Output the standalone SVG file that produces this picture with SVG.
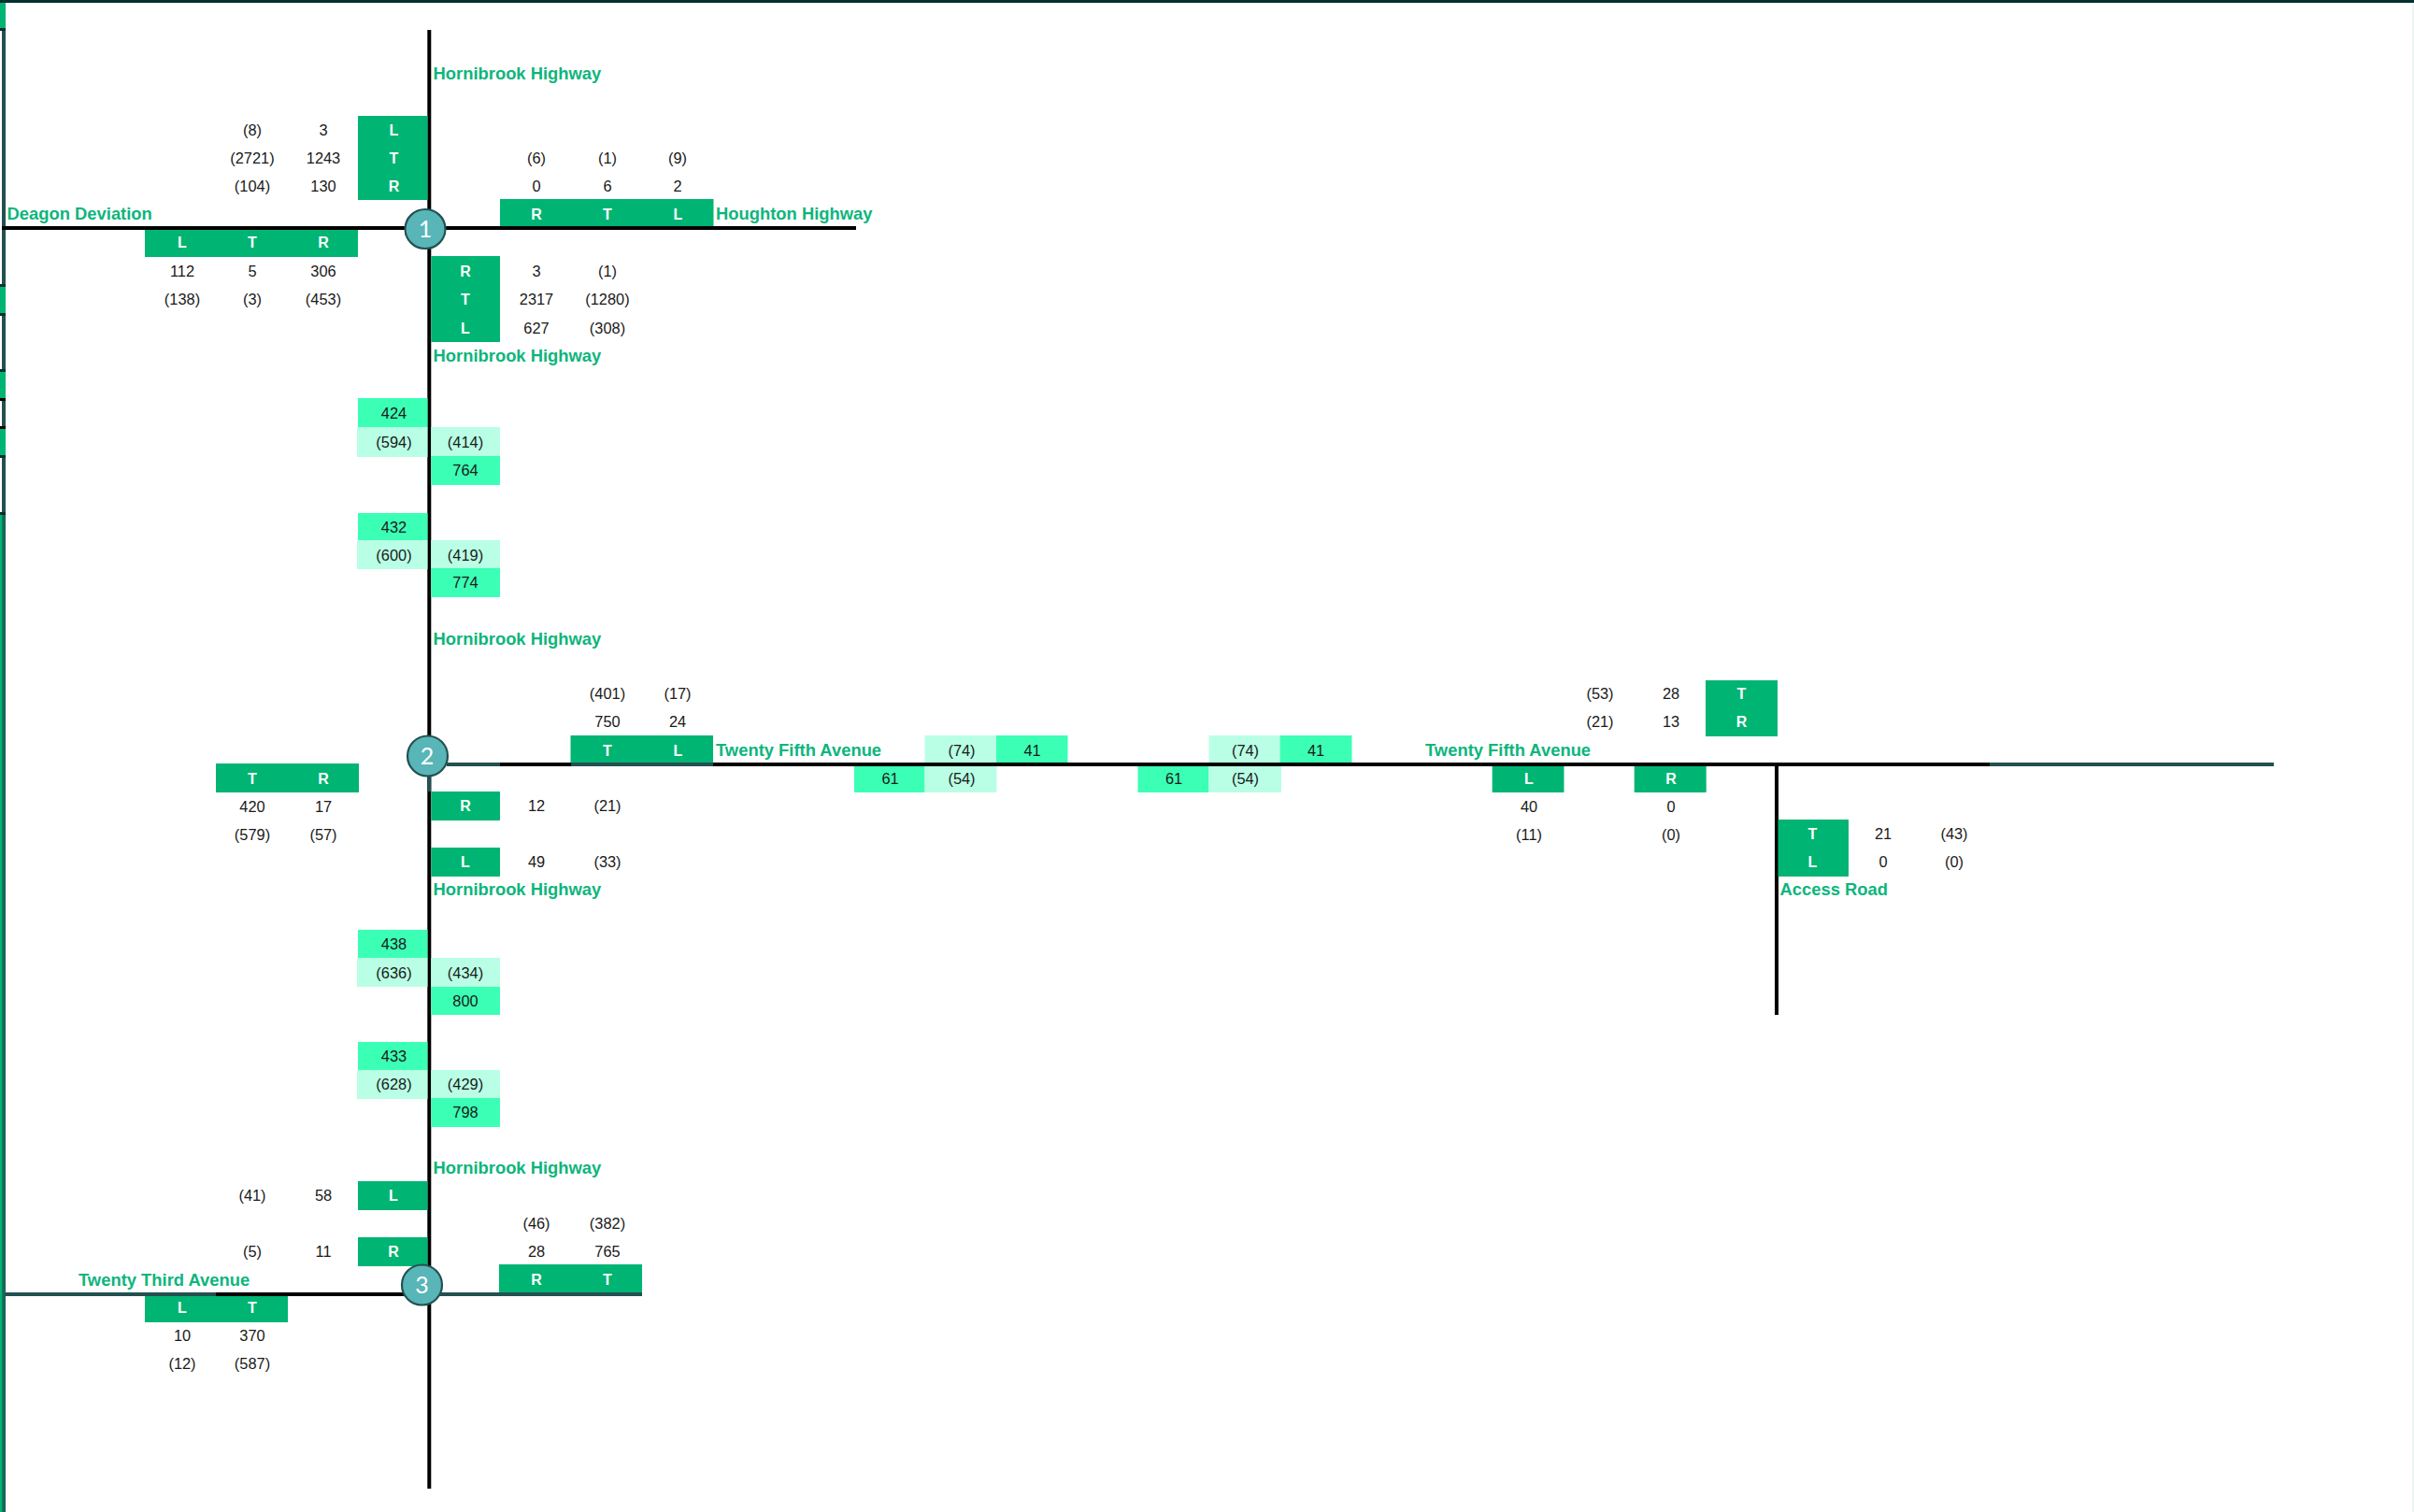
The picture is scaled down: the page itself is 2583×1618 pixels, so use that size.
<svg xmlns="http://www.w3.org/2000/svg" width="2583" height="1618" viewBox="0 0 2583 1618">
<style>
text{font-family:"Liberation Sans",Arial,sans-serif;text-anchor:middle}
.g{fill:#00b473}.m{fill:#3bffb5}.p{fill:#b9ffe5}
.w{fill:#fff;font-weight:700;font-size:16px}
.n{fill:#1a1a1a;font-size:16.400px}
.l{fill:#0db57c;font-weight:700;font-size:18.400px;text-anchor:start}
.k{stroke:#000;stroke-width:4;fill:none}
.t{stroke:#235050;stroke-width:4;fill:none}
.c{fill:#58b5b8;stroke:#235050;stroke-width:2.200}
.cn{fill:#fff;font-size:25px;font-family:Lato,"Liberation Sans",sans-serif}
.e{fill:#235050}.d{fill:#022f2f}.b{fill:#00b473}
</style>
<rect width="2583" height="1618" fill="#fff"/>
<g id="frame">
<rect x="0" y="0" width="2583" height="3" class="d"/>
<rect x="2581" y="3" width="2" height="1615" fill="#eef3f4"/>
<rect x="2" y="3" width="4" height="1615" class="e"/>
<rect x="0" y="3" width="6" height="27" class="b"/>
<rect x="0" y="306" width="6" height="29" class="b"/>
<rect x="0" y="397" width="6" height="29" class="b"/>
<rect x="0" y="459" width="6" height="28" class="b"/>
<rect x="0" y="550" width="2.500" height="1068" class="b"/>
<rect x="2.500" y="550" width="3" height="1068" fill="#166a58"/>
<rect x="0" y="30" width="6" height="3" class="d"/>
<rect x="0" y="304" width="6" height="3" class="d"/>
<rect x="0" y="335" width="6" height="3" class="d"/>
<rect x="0" y="395" width="6" height="3" class="d"/>
<rect x="0" y="426" width="6" height="3" fill="#000"/>
<rect x="0" y="456" width="6" height="3" fill="#000"/>
<rect x="0" y="487" width="6" height="3" class="d"/>
<rect x="0" y="548" width="6" height="3" class="d"/>
</g>
<g id="connectors">
<path class="k" d="M459.300 32V1593"/>
<path class="k" d="M2 244H916"/>
<path class="t" d="M459.300 825V847"/>
<path class="k" d="M535 818H611"/>
<path class="t" d="M478 818H535M611 818H763"/>
<path class="k" d="M763 818H2129"/>
<path class="t" d="M2129 818H2433"/>
<path class="k" d="M1901 818V1086"/>
<path class="t" d="M5 1385H231"/>
<path class="k" d="M231 1385H432"/>
<path class="t" d="M470 1385H687"/>
</g>
<g id="node-1-west-south">
<rect class="g" x="155" y="246" width="228" height="29"/>
<text class="w" x="195" y="265">L</text><text class="w" x="270" y="265">T</text><text class="w" x="346" y="265">R</text>
<text class="n" x="195" y="296">112</text><text class="n" x="270" y="296">5</text><text class="n" x="346" y="296">306</text>
<text class="n" x="195" y="326">(138)</text><text class="n" x="270" y="326">(3)</text><text class="n" x="346" y="326">(453)</text>
</g>
<g id="node-1-north">
<rect class="g" x="383" y="124" width="74.500" height="90"/>
<text class="w" x="421.500" y="145">L</text><text class="w" x="421.500" y="175">T</text><text class="w" x="421.500" y="205">R</text>
<text class="n" x="346" y="145">3</text><text class="n" x="346" y="175">1243</text><text class="n" x="346" y="205">130</text>
<text class="n" x="270" y="145">(8)</text><text class="n" x="270" y="175">(2721)</text><text class="n" x="270" y="205">(104)</text>
</g>
<g id="node-1-east">
<rect class="g" x="535" y="213" width="228.500" height="29"/>
<text class="w" x="574" y="235">R</text><text class="w" x="650" y="235">T</text><text class="w" x="725.500" y="235">L</text>
<text class="n" x="574" y="205">0</text><text class="n" x="650" y="205">6</text><text class="n" x="725" y="205">2</text>
<text class="n" x="574" y="175">(6)</text><text class="n" x="650" y="175">(1)</text><text class="n" x="725" y="175">(9)</text>
</g>
<g id="node-1-south">
<rect class="g" x="461.300" y="274" width="73.700" height="92"/>
<text class="w" x="498" y="296">R</text><text class="w" x="498" y="326">T</text><text class="w" x="498" y="357">L</text>
<text class="n" x="574" y="296">3</text><text class="n" x="574" y="326">2317</text><text class="n" x="574" y="357">627</text>
<text class="n" x="650" y="296">(1)</text><text class="n" x="650" y="326">(1280)</text><text class="n" x="650" y="357">(308)</text>
</g>
<g id="node-1"><ellipse class="c" cx="455" cy="245" rx="21.500" ry="21"/><text class="cn" x="455" y="254">1</text></g>
<g id="road-labels">
<text class="l" x="463.500" y="85">Hornibrook Highway</text>
<text class="l" x="7.500" y="235">Deagon Deviation</text>
<text class="l" x="766" y="235">Houghton Highway</text>
<text class="l" x="463.500" y="386.500">Hornibrook Highway</text>
<text class="l" x="463.500" y="690">Hornibrook Highway</text>
<text class="l" x="766" y="809">Twenty Fifth Avenue</text>
<text class="l" x="1525" y="809">Twenty Fifth Avenue</text>
<text class="l" x="463.500" y="958">Hornibrook Highway</text>
<text class="l" x="1904.500" y="958">Access Road</text>
<text class="l" x="463.500" y="1256">Hornibrook Highway</text>
<text class="l" x="84" y="1375.500">Twenty Third Avenue</text>
</g>
<g id="flow-a">
<rect class="m" x="383" y="426" width="74.500" height="31"/><text class="n" x="421.500" y="448">424</text>
<rect class="p" x="382" y="457" width="75.500" height="32"/><text class="n" x="421.500" y="479">(594)</text>
<rect class="p" x="461.300" y="457" width="73.700" height="31"/><text class="n" x="498" y="479">(414)</text>
<rect class="m" x="461.300" y="488" width="73.700" height="31"/><text class="n" x="498" y="509">764</text>
</g>
<g id="flow-b">
<rect class="m" x="383" y="549" width="74.500" height="29"/><text class="n" x="421.500" y="570">432</text>
<rect class="p" x="382" y="578" width="75.500" height="31"/><text class="n" x="421.500" y="600">(600)</text>
<rect class="p" x="461.300" y="578" width="73.700" height="30"/><text class="n" x="498" y="600">(419)</text>
<rect class="m" x="461.300" y="608" width="73.700" height="31"/><text class="n" x="498" y="629">774</text>
</g>
<g id="node-2-north-east">
<rect class="g" x="610.500" y="787" width="152.500" height="29"/>
<text class="w" x="650" y="809">T</text><text class="w" x="725.500" y="809">L</text>
<text class="n" x="650" y="778">750</text><text class="n" x="725" y="778">24</text>
<text class="n" x="650" y="748">(401)</text><text class="n" x="725" y="748">(17)</text>
</g>
<g id="node-2-west">
<rect class="g" x="231" y="817" width="153" height="31"/>
<text class="w" x="270" y="839">T</text><text class="w" x="346" y="839">R</text>
<text class="n" x="270" y="868.500">420</text><text class="n" x="346" y="868.500">17</text>
<text class="n" x="270" y="898.500">(579)</text><text class="n" x="346" y="898.500">(57)</text>
</g>
<g id="node-2-south">
<rect class="g" x="461.300" y="847" width="73.700" height="31"/><text class="w" x="498" y="868">R</text>
<text class="n" x="574" y="868">12</text><text class="n" x="650" y="868">(21)</text>
<rect class="g" x="461.300" y="907" width="73.700" height="31"/><text class="w" x="498" y="928">L</text>
<text class="n" x="574" y="928">49</text><text class="n" x="650" y="928">(33)</text>
</g>
<g id="node-2"><ellipse class="c" cx="457.500" cy="809" rx="21.500" ry="21.500"/><text class="cn" x="457" y="818">2</text></g>
<g id="flow-c">
<rect class="p" x="989.500" y="787" width="76.500" height="29"/><text class="n" x="1029" y="809">(74)</text>
<rect class="m" x="1066" y="787" width="76.500" height="29"/><text class="n" x="1104.500" y="809">41</text>
<rect class="m" x="914" y="820" width="75.500" height="28"/><text class="n" x="952.500" y="839">61</text>
<rect class="p" x="989.500" y="820" width="77" height="28"/><text class="n" x="1029" y="839">(54)</text>
</g>
<g id="flow-d">
<rect class="p" x="1293.500" y="787" width="76" height="29"/><text class="n" x="1332.500" y="809">(74)</text>
<rect class="m" x="1369.500" y="787" width="77" height="29"/><text class="n" x="1408" y="809">41</text>
<rect class="m" x="1217.500" y="820" width="76" height="28"/><text class="n" x="1256" y="839">61</text>
<rect class="p" x="1293.500" y="820" width="77.500" height="28"/><text class="n" x="1332.500" y="839">(54)</text>
</g>
<g id="node-a-north">
<rect class="g" x="1825" y="728" width="77" height="60"/>
<text class="w" x="1863.500" y="748">T</text><text class="w" x="1863.500" y="778">R</text>
<text class="n" x="1788" y="748">28</text><text class="n" x="1788" y="778">13</text>
<text class="n" x="1712" y="748">(53)</text><text class="n" x="1712" y="778">(21)</text>
</g>
<g id="node-a-south">
<rect class="g" x="1596.700" y="820" width="76.800" height="28"/><text class="w" x="1636" y="839">L</text>
<rect class="g" x="1748.700" y="820" width="77" height="28"/><text class="w" x="1788" y="839">R</text>
<text class="n" x="1636" y="868.500">40</text><text class="n" x="1788" y="868.500">0</text>
<text class="n" x="1636" y="898.500">(11)</text><text class="n" x="1788" y="898.500">(0)</text>
</g>
<g id="node-a-east">
<rect class="g" x="1902.500" y="877" width="75.500" height="61"/>
<text class="w" x="1939.500" y="898">T</text><text class="w" x="1939.500" y="928">L</text>
<text class="n" x="2015" y="898">21</text><text class="n" x="2015" y="928">0</text>
<text class="n" x="2091" y="898">(43)</text><text class="n" x="2091" y="928">(0)</text>
</g>
<g id="flow-e">
<rect class="m" x="383" y="995" width="74.500" height="30"/><text class="n" x="421.500" y="1016">438</text>
<rect class="p" x="382" y="1025" width="75.500" height="31"/><text class="n" x="421.500" y="1047">(636)</text>
<rect class="p" x="461.300" y="1025" width="73.700" height="31"/><text class="n" x="498" y="1047">(434)</text>
<rect class="m" x="461.300" y="1056" width="73.700" height="30"/><text class="n" x="498" y="1077">800</text>
</g>
<g id="flow-f">
<rect class="m" x="383" y="1115" width="74.500" height="30"/><text class="n" x="421.500" y="1136">433</text>
<rect class="p" x="382" y="1145" width="75.500" height="31"/><text class="n" x="421.500" y="1166">(628)</text>
<rect class="p" x="461.300" y="1145" width="73.700" height="30"/><text class="n" x="498" y="1166">(429)</text>
<rect class="m" x="461.300" y="1175" width="73.700" height="31"/><text class="n" x="498" y="1195.500">798</text>
</g>
<g id="node-3-north">
<rect class="g" x="383" y="1264" width="74.500" height="31"/><text class="w" x="421" y="1285">L</text>
<text class="n" x="346" y="1285">58</text><text class="n" x="270" y="1285">(41)</text>
<rect class="g" x="383" y="1324" width="74.500" height="31"/><text class="w" x="421" y="1345">R</text>
<text class="n" x="346" y="1345">11</text><text class="n" x="270" y="1345">(5)</text>
</g>
<g id="node-3-east">
<rect class="g" x="534" y="1353" width="153" height="30"/>
<text class="w" x="574" y="1375">R</text><text class="w" x="650" y="1375">T</text>
<text class="n" x="574" y="1345">28</text><text class="n" x="650" y="1345">765</text>
<text class="n" x="574" y="1315">(46)</text><text class="n" x="650" y="1315">(382)</text>
</g>
<g id="node-3-west">
<rect class="g" x="155" y="1387" width="153" height="28"/>
<text class="w" x="195" y="1405">L</text><text class="w" x="270" y="1405">T</text>
<text class="n" x="195" y="1435">10</text><text class="n" x="270" y="1435">370</text>
<text class="n" x="195" y="1465">(12)</text><text class="n" x="270" y="1465">(587)</text>
</g>
<g id="node-3"><ellipse class="c" cx="451.500" cy="1375" rx="21.500" ry="21.500"/><text class="cn" x="451.500" y="1384">3</text></g>
</svg>
